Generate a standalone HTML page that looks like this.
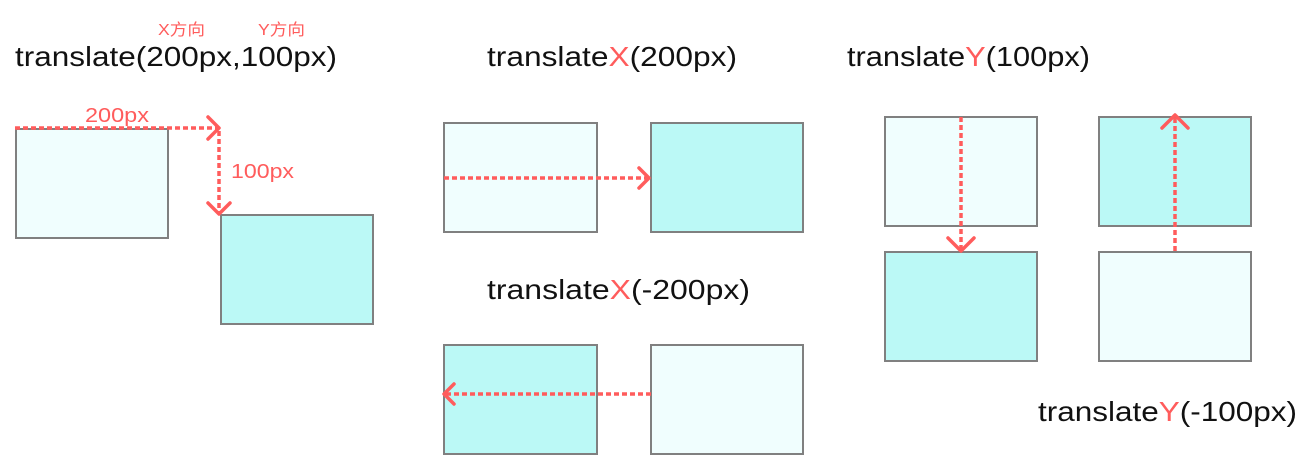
<!DOCTYPE html>
<html><head><meta charset="utf-8"><style>
html,body{margin:0;padding:0;background:#fff;}
svg{display:block;}
text{font-family:"Liberation Sans","Noto Sans CJK SC",sans-serif;}
.t{font-size:28px;fill:#111;}
.r{fill:#ff5c5c;}
.box1{fill:#f0fefe;stroke:#808080;stroke-width:2;}
.box2{fill:#bbf9f6;stroke:#808080;stroke-width:2;}
.dash{stroke:#ff5c5c;stroke-width:3.5;stroke-dasharray:5 3;fill:none;}
.head{stroke:#ff5c5c;stroke-width:3.5;fill:none;stroke-linecap:round;stroke-linejoin:round;}
</style></head><body>
<svg width="1301" height="473" viewBox="0 0 1301 473">
<text x="158" y="35" font-size="16" textLength="47" lengthAdjust="spacingAndGlyphs" class="r">X方向</text>
<text x="258" y="35" font-size="16" textLength="47" lengthAdjust="spacingAndGlyphs" class="r">Y方向</text>
<text x="15" y="66" class="t" textLength="322" lengthAdjust="spacingAndGlyphs">translate(200px,100px)</text>
<rect x="16" y="129" width="152" height="109" class="box1"/>
<rect x="221" y="215" width="152" height="109" class="box2"/>
<line x1="15" y1="128" x2="217" y2="128" class="dash"/>
<polyline points="208,117 219,128 208,139" class="head"/>
<line x1="219" y1="131" x2="219" y2="212" class="dash"/>
<polyline points="208,203 219,214 230,203" class="head"/>
<text x="85" y="122" font-size="20" textLength="64" lengthAdjust="spacingAndGlyphs" class="r">200px</text>
<text x="231" y="178" font-size="20" textLength="63" lengthAdjust="spacingAndGlyphs" class="r">100px</text>

<text x="487" y="66" class="t" textLength="250" lengthAdjust="spacingAndGlyphs">translate<tspan class="r">X</tspan>(200px)</text>
<rect x="444" y="123" width="153" height="109" class="box1"/>
<rect x="651" y="123" width="152" height="109" class="box2"/>
<line x1="444" y1="178" x2="647" y2="178" class="dash"/>
<polyline points="639,168 649,178 639,188" class="head"/>

<text x="487" y="299" class="t" textLength="263" lengthAdjust="spacingAndGlyphs">translate<tspan class="r">X</tspan>(-200px)</text>
<rect x="444" y="345" width="153" height="109" class="box2"/>
<rect x="651" y="345" width="152" height="109" class="box1"/>
<line x1="651" y1="394" x2="446" y2="394" class="dash"/>
<polyline points="454,384 444,394 454,404" class="head"/>

<text x="847" y="66" class="t" textLength="243" lengthAdjust="spacingAndGlyphs">translate<tspan class="r">Y</tspan>(100px)</text>
<rect x="885" y="117" width="152" height="109" class="box1"/>
<rect x="885" y="252" width="152" height="109" class="box2"/>
<line x1="961" y1="117" x2="961" y2="249" class="dash"/>
<polyline points="948,238 961,251 974,238" class="head"/>

<rect x="1099" y="117" width="152" height="109" class="box2"/>
<rect x="1099" y="252" width="152" height="109" class="box1"/>
<line x1="1175" y1="251" x2="1175" y2="117" class="dash"/>
<polyline points="1162,128 1175,115 1188,128" class="head"/>
<text x="1038" y="421" class="t" textLength="259" lengthAdjust="spacingAndGlyphs">translate<tspan class="r">Y</tspan>(-100px)</text>
</svg>
</body></html>
